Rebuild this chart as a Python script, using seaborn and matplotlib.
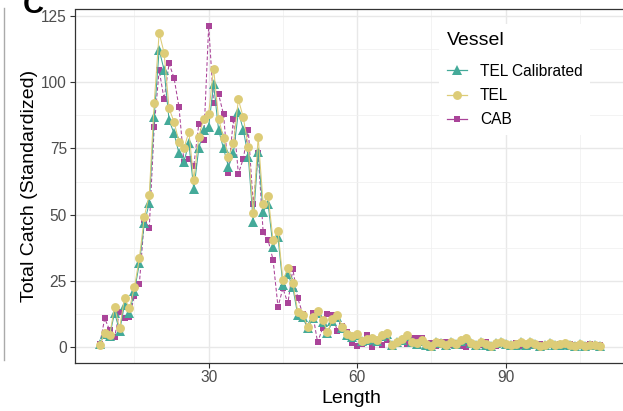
import matplotlib
matplotlib.use("Agg")
import matplotlib.pyplot as plt
from matplotlib.lines import Line2D
import seaborn as sns
import pandas as pd

# ---------------- data ----------------
lengths = list(range(8, 110))

tel = [0.8, 5.2, 4.5, 15.2, 7.0, 18.4, 14.6, 22.5, 33.5, 49.2,
       57.5, 92.3, 118.7, 111.1, 90.1, 85.1, 77.5, 75.0, 81.3, 63.1,
       79.4, 86.3, 88.2, 105.2, 86.3, 79.0, 71.9, 76.9, 93.5, 86.7,
       75.6, 50.5, 79.4, 54.2, 57.2, 40.4, 43.9, 25.3, 29.7, 24.3,
       13.3, 12.1, 7.7, 11.5, 13.6, 10.2, 5.8, 10.5, 12.1, 7.7,
       5.0, 4.0, 4.8, 2.4, 3.0, 3.3, 2.5, 4.5, 5.2, 0.8,
       2.0, 3.0, 4.5, 2.0, 1.4, 2.5, 1.0, 0.3, 2.0, 1.5,
       0.8, 1.8, 1.2, 2.5, 3.3, 1.5, 0.8, 2.0, 1.0, 0.5,
       1.5, 2.0, 1.2, 0.6, 1.0, 1.8, 1.0, 2.0, 1.2, 0.5,
       0.8, 1.5, 0.8, 1.0, 1.4, 0.6, 0.5, 1.2, 0.4, 0.8,
       0.9, 0.3]

tel_cal = [1.0, 5.0, 4.2, 13.0, 6.0, 16.0, 13.0, 21.0, 31.6, 46.7,
           54.5, 87.0, 112.3, 104.6, 85.7, 80.7, 73.2, 70.0, 76.9, 59.5,
           75.0, 82.0, 83.2, 99.2, 82.0, 75.0, 68.1, 73.1, 88.9, 82.0,
           71.9, 47.3, 73.8, 51.1, 54.2, 37.9, 41.4, 23.5, 27.5, 22.5,
           12.0, 11.2, 7.0, 10.8, 12.8, 9.5, 5.2, 9.8, 11.3, 7.1,
           4.6, 3.6, 4.4, 2.2, 2.8, 3.0, 2.3, 4.2, 4.8, 0.7,
           1.8, 2.8, 4.2, 1.8, 1.3, 2.3, 0.9, 0.3, 1.8, 1.4,
           0.7, 1.7, 1.1, 2.3, 3.1, 1.4, 0.7, 1.9, 0.9, 0.5,
           1.4, 1.9, 1.1, 0.6, 0.9, 1.7, 0.9, 1.9, 1.1, 0.5,
           0.7, 1.4, 0.7, 0.9, 1.3, 0.6, 0.5, 1.1, 0.4, 0.7,
           0.8, 0.3]

cab = [1.0, 10.8, 6.4, 3.7, 13.3, 10.8, 11.5, 19.3, 23.8, 48.0,
       45.0, 83.2, 104.6, 93.6, 107.1, 101.7, 90.7, 70.0, 70.9, 68.5,
       84.2, 78.2, 121.3, 92.0, 95.5, 87.9, 65.8, 86.3, 65.5, 71.2,
       82.0, 53.9, 73.1, 43.5, 40.4, 33.0, 15.2, 22.2, 16.5, 29.5,
       18.4, 12.5, 7.0, 12.7, 1.8, 7.0, 12.5, 12.0, 6.0, 8.0,
       5.8, 1.6, 0.4, 1.0, 4.5, 0.0, 1.5, 0.8, 2.5, 0.0,
       1.5, 2.5, 1.0, 3.3, 3.5, 3.3, 1.0, 1.5, 0.5, 2.0,
       2.0, 0.8, 1.5, 0.3, 0.0, 1.5, 0.3, 0.8, 1.8, 0.5,
       0.3, 1.5, 0.6, 0.8, 1.5, 0.4, 1.0, 0.5, 0.2, 1.3,
       0.3, 0.8, 0.2, 1.0, 0.5, 1.2, 0.6, 0.2, 0.9, 1.0,
       0.5, 0.8]

vessels = ["TEL Calibrated", "TEL", "CAB"]
colors = {"TEL Calibrated": "#44AA99", "TEL": "#DDCC77", "CAB": "#AA4499"}
markers = {"TEL Calibrated": "^", "TEL": "o", "CAB": "s"}
msizes = {"TEL Calibrated": 6.5, "TEL": 6.4, "CAB": 4.8}
lstyles = {"TEL Calibrated": "-", "TEL": "-", "CAB": (0, (3.5, 2))}

x_ticks = [30, 60, 90]
y_ticks = [0, 25, 50, 75, 100, 125]

df = pd.DataFrame({
    "Length": lengths * 3,
    "Catch": tel_cal + tel + cab,
    "Vessel": ["TEL Calibrated"] * len(lengths) + ["TEL"] * len(lengths) + ["CAB"] * len(lengths),
})

# ---------------- figure ----------------
plt.rcParams["font.family"] = ["Liberation Sans", "DejaVu Sans"]
W, H = 623, 411
fig = plt.figure(figsize=(W / 100, H / 100), dpi=100)

px_l, px_r, px_t, px_b = 75, 627, 9.5, 363
ax = fig.add_axes([px_l / W, 1 - px_b / H, (px_r - px_l) / W, (px_b - px_t) / H])
ax.set_facecolor("white")

# draw order: CAB at bottom, TEL on top
for v, z in [("CAB", 3), ("TEL Calibrated", 4), ("TEL", 5)]:
    sub = df[df["Vessel"] == v]
    sns.lineplot(data=sub, x="Length", y="Catch", ax=ax, color=colors[v],
                 marker=markers[v], markersize=msizes[v], markeredgewidth=0,
                 linewidth=0.75, linestyle=lstyles[v], zorder=z,
                 estimator=None, sort=True, legend=False)

ax.set_xlim(3.0, 114.5)
ax.set_ylim(-6.05, 127.5)

ax.set_xticks(x_ticks)
ax.set_yticks(y_ticks)
ax.set_xticks([15, 45, 75, 105], minor=True)
ax.set_yticks([12.5, 37.5, 62.5, 87.5, 112.5], minor=True)
ax.grid(which="major", color="#E8E8E8", linewidth=1.0)
ax.grid(which="minor", color="#F0F0F0", linewidth=0.55)
ax.set_axisbelow(True)

ax.tick_params(axis="both", which="major", length=3.6, width=0.8, color="#333333",
               labelcolor="#4D4D4D", labelsize=11.2)
ax.tick_params(axis="x", which="major", pad=1.5)
ax.tick_params(axis="y", which="major", pad=2.2)
ax.tick_params(which="minor", length=0)

for s in ["top", "bottom", "left", "right"]:
    ax.spines[s].set_color("#333333")
    ax.spines[s].set_linewidth(0.9)

ax.set_xlabel("Length", fontsize=14, color="black")
ax.set_ylabel("Total Catch (Standardized)", fontsize=14, color="black")
ax.xaxis.set_label_coords(0.5, -0.077)
ax.yaxis.set_label_coords(-0.067, 0.5)

# legend
handles = [Line2D([0], [0], color=colors[v], marker=markers[v], markersize=msizes[v],
                  markeredgewidth=0, linewidth=0.9) for v in vessels]
leg = ax.legend(handles, vessels, title="Vessel", loc="upper left",
                bbox_to_anchor=((431 - px_l) / (px_r - px_l), (px_b - 16) / (px_b - px_t)),
                fontsize=11.2, title_fontsize=14, frameon=True, facecolor="white",
                edgecolor="none", framealpha=1, fancybox=False, borderpad=0.5,
                handlelength=1.3, handletextpad=0.85, labelspacing=0.6,
                alignment="left")
leg._legend_box.sep = 11.0
leg.set_zorder(10)

# panel letter and neighbouring panel edge
fig.text(23 / W, 1 - 13 / H, "C", fontsize=21, fontweight="bold", color="black",
         ha="left", va="baseline")
fig.add_artist(Line2D([4 / W, 4 / W], [1 - 360 / H, 1 - 8 / H], color="#AAAAAA",
                      linewidth=1.0, transform=fig.transFigure))

fig.savefig("out.png", dpi=100)
